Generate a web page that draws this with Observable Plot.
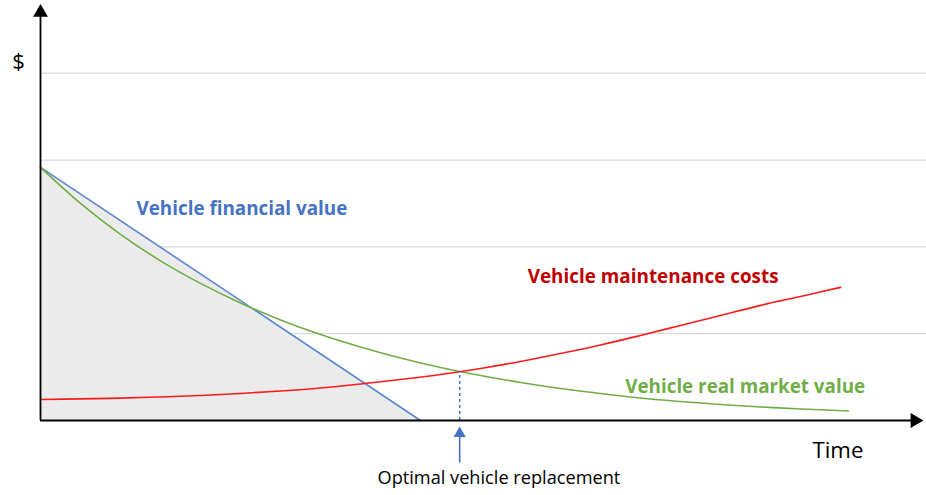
<!DOCTYPE html>
<html>
<head>
<meta charset="utf-8">
<script src="https://cdn.jsdelivr.net/npm/d3@7"></script>
<script src="https://cdn.jsdelivr.net/npm/@observablehq/plot@0.6"></script>
<style>
  html, body { margin: 0; padding: 0; background: #fff; }
  #chart svg { display: block; }
</style>
</head>
<body>
<div id="chart"></div>
<script>
// Time axis (arbitrary units) and $ values
const greenTime  = [0, 0.5, 1, 1.5, 2, 2.5, 3, 3.5, 4, 4.5, 5, 5.5, 6, 6.5, 7, 7.5, 8, 8.5, 9, 9.5, 10.1];
const greenValue = [2.916, 2.501, 2.144, 1.839, 1.579, 1.354, 1.158, 0.991, 0.847, 0.720, 0.611, 0.519, 0.438, 0.369, 0.311, 0.259, 0.219, 0.184, 0.156, 0.133, 0.110];
const redTime    = [0, 0.5, 1, 1.5, 2, 2.5, 3, 3.5, 4, 4.5, 5, 5.5, 6, 6.5, 7, 7.5, 8, 8.5, 9, 9.5, 10];
const redValue   = [0.242, 0.249, 0.258, 0.271, 0.288, 0.311, 0.340, 0.375, 0.421, 0.473, 0.530, 0.599, 0.680, 0.772, 0.870, 0.980, 1.095, 1.210, 1.326, 1.429, 1.533];
const blueTime   = [0, 4.75];
const blueValue  = [2.916, 0];
const gridValues = [1, 2, 3, 4];
const replacementTime = 5.24;
const replacementValue = 0.565;

const seriesNames = ["Vehicle financial value", "Vehicle maintenance costs", "Vehicle real market value"];
const axisNames = ["$", "Time"];
const noteText = "Optimal vehicle replacement";

const blue = blueTime.map((t, i) => ({t, v: blueValue[i]}));
const green = greenTime.map((t, i) => ({t, v: greenValue[i]}));
const red = redTime.map((t, i) => ({t, v: redValue[i]}));

const family = "'Open Sans', Lato, sans-serif";
const ctx = document.createElement("canvas").getContext("2d");
function fit(text, weight, target) {
  ctx.font = `${weight} 100px ${family}`;
  return 100 * target / ctx.measureText(text).width;
}

const chart = Plot.plot({
  width: 926,
  height: 495,
  marginLeft: 40,
  marginRight: 6,
  marginTop: 5,
  marginBottom: 75,
  x: {domain: [0, 11], axis: null},
  y: {domain: [0, 4.78], axis: null},
  style: {fontFamily: family, background: "#fff"},
  marks: [
    Plot.ruleY(gridValues, {x1: 0, x2: 11.1, stroke: "#d9d9d9", strokeWidth: 1.2}),
    Plot.areaY(blue, {x: "t", y: "v", fill: "#ebebeb"}),
    Plot.line(blue, {x: "t", y: "v", stroke: "#5b85d0", strokeWidth: 1.6}),
    Plot.line(green, {x: "t", y: "v", stroke: "#70ad47", strokeWidth: 1.6, curve: "catmull-rom"}),
    Plot.line(red, {x: "t", y: "v", stroke: "#ff1a1a", strokeWidth: 1.6, curve: "catmull-rom"}),
    Plot.ruleX([replacementTime], {y1: 0, y2: replacementValue, stroke: "#4472c4", strokeWidth: 1.5, strokeDasharray: "3,3"}),
    // axes with arrows
    Plot.ruleY([0], {x1: 0, x2: 10.92, stroke: "#000", strokeWidth: 1.8}),
    Plot.ruleX([0], {y1: 0, y2: 4.66, stroke: "#000", strokeWidth: 1.8}),
    Plot.dot([{t: 0, v: 4.7}], {x: "t", y: "v", symbol: "triangle", r: 5.5, fill: "#000", stroke: null}),
    Plot.dot([{t: 10.93, v: 0}], {x: "t", y: "v", symbol: "triangle", r: 5.5, fill: "#000", stroke: null, rotate: 90}),
    // replacement arrow
    Plot.ruleX([replacementTime], {y1: -0.49, y2: -0.16, stroke: "#4472c4", strokeWidth: 1.6}),
    Plot.dot([{t: replacementTime, v: -0.15}], {x: "t", y: "v", symbol: "triangle", r: 4.5, fill: "#4472c4", stroke: null}),
    // labels
    Plot.text([seriesNames[0]], {x: 1.2, y: 2.44, text: d => d, textAnchor: "start", fill: "#4472c4", fontWeight: "bold", fontSize: fit(seriesNames[0], "bold", 211)}),
    Plot.text([seriesNames[1]], {x: 6.09, y: 1.65, text: d => d, textAnchor: "start", fill: "#c00000", fontWeight: "bold", fontSize: fit(seriesNames[1], "bold", 251)}),
    Plot.text([seriesNames[2]], {x: 7.31, y: 0.39, text: d => d, textAnchor: "start", fill: "#70ad47", fontWeight: "bold", fontSize: fit(seriesNames[2], "bold", 240)}),
    Plot.text([axisNames[0]], {x: -0.275, y: 4.13, text: d => d, fill: "#000", fontSize: 22}),
    Plot.text([axisNames[1]], {x: 9.65, y: -0.35, text: d => d, textAnchor: "start", fill: "#000", fontSize: fit(axisNames[1], "normal", 51)}),
    Plot.text([noteText], {x: 5.73, y: -0.67, text: d => d, fill: "#000", fontSize: fit(noteText, "normal", 243)})
  ]
});
document.getElementById("chart").appendChild(chart);
</script>
</body>
</html>
